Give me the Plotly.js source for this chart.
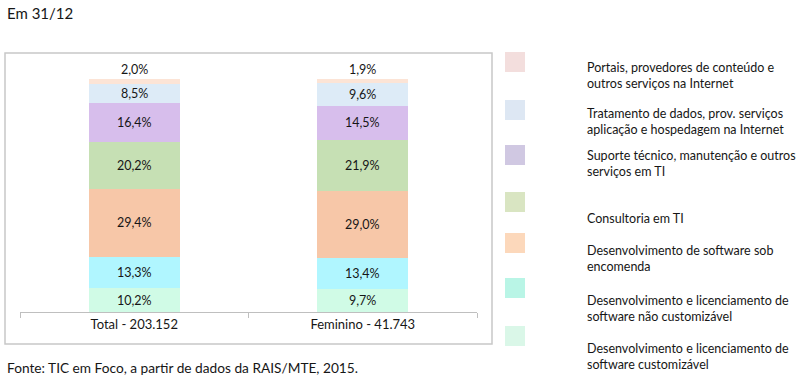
<!DOCTYPE html>
<html>
<head>
<meta charset="utf-8">
<script src="https://cdn.plot.ly/plotly-3.0.1.min.js"></script>
<style>
html,body{margin:0;padding:0;background:#fff;}
#chart{width:800px;height:376px;}
</style>
</head>
<body>
<div id="chart"></div>
<script>
// ---- data ----
const categories = ["Total - 203.152", "Feminino - 41.743"];
const seriesNames = [
  "Desenvolvimento e licenciamento de<br>software customizável",
  "Desenvolvimento e licenciamento de<br>software não customizável",
  "Desenvolvimento de software sob<br>encomenda",
  "Consultoria em TI",
  "Suporte técnico, manutenção e outros<br>serviços em TI",
  "Tratamento de dados, prov. serviços<br>aplicação e hospedagem na Internet",
  "Portais, provedores de conteúdo e<br>outros serviços na Internet"
];
const customizavel    = [10.2, 9.7];
const naoCustomizavel = [13.3, 13.4];
const sobEncomenda    = [29.4, 29.0];
const consultoria     = [20.2, 21.9];
const suporte         = [16.4, 14.5];
const tratamento      = [8.5, 9.6];
const portais         = [2.0, 1.9];
const seriesValues = [customizavel, naoCustomizavel, sobEncomenda, consultoria, suporte, tratamento, portais];

// ---- styles ----
const barColors    = ["#D0FBE6", "#B0F6FF", "#F7C7A8", "#C6E0B4", "#D7BEEC", "#DDEBF7", "#FCE4D6"];
const legendColors = ["#DAF7E8", "#B9F5E6", "#FCD8BB", "#D9E5C2", "#D0C8E2", "#DDE7F3", "#F3DEDD"];
const font = "Lato, 'Open Sans', sans-serif";
const textColor = "#161616";

const fmt = v => v.toFixed(1).replace(".", ",") + "%";

const traces = seriesValues.map((vals, i) => ({
  type: "bar",
  x: categories,
  y: vals,
  name: seriesNames[i].replace("<br>", " "),
  marker: {color: barColors[i], line: {width: 0}},
  width: 0.4,
  hoverinfo: "skip",
  showlegend: false
}));

// segment labels
const annotations = [];
categories.forEach((cat, c) => {
  let cum = 0;
  seriesValues.forEach((vals, i) => {
    const v = vals[c];
    const last = i === seriesValues.length - 1;
    annotations.push({
      x: cat, y: last ? cum + v : cum + v / 2,
      xref: "x", yref: "y",
      text: fmt(v), showarrow: false,
      yanchor: last ? "bottom" : "middle",
      font: {family: font, size: 12.5, color: textColor}
    });
    cum += v;
  });
});

// custom legend (top entry first)
const shapes = [];
const px = x => (x - 20) / 457;
const py = y => (312 - y) / 233;
const legendSquares = [62, 110, 155, 202, 243, 288, 336];
const legendTexts   = [76, 122, 163, 218, 258, 308, 356];
for (let k = 0; k < seriesNames.length; k++) {
  const i = seriesNames.length - 1 - k;
  shapes.push({
    type: "rect", xref: "paper", yref: "paper",
    x0: px(505), x1: px(525), y0: py(legendSquares[k] + 10), y1: py(legendSquares[k] - 10),
    fillcolor: legendColors[i], line: {width: 0}, layer: "above"
  });
  annotations.push({
    xref: "paper", yref: "paper", x: px(585), y: py(legendTexts[k]),
    xanchor: "left", yanchor: "middle", align: "left", showarrow: false,
    text: seriesNames[i],
    font: {family: font, size: 12.5, color: textColor}
  });
}

// outer chart frame
shapes.push({
  type: "rect", xref: "paper", yref: "paper",
  x0: px(5), x1: px(492), y0: py(344), y1: py(53),
  line: {color: "#C8C8C8", width: 1.5}, fillcolor: "rgba(0,0,0,0)", layer: "below"
});

annotations.push({
  xref: "paper", yref: "paper", x: px(5), y: py(13),
  xanchor: "left", yanchor: "middle", showarrow: false,
  text: "Em 31/12", font: {family: font, size: 15, color: textColor}
});
annotations.push({
  xref: "paper", yref: "paper", x: px(5), y: py(367),
  xanchor: "left", yanchor: "middle", showarrow: false,
  text: "Fonte: TIC em Foco, a partir de dados da RAIS/MTE, 2015.",
  font: {family: font, size: 13.7, color: textColor}
});

const layout = {
  width: 800, height: 376,
  margin: {l: 20, r: 323, t: 79, b: 64, pad: 0},
  paper_bgcolor: "#fff", plot_bgcolor: "#fff",
  barmode: "stack",
  showlegend: false,
  xaxis: {
    type: "category", range: [-0.5, 1.5],
    showline: true, linecolor: "#BFBFBF", linewidth: 1,
    ticks: "outside", tickson: "boundaries", ticklen: 5, tickcolor: "#BFBFBF",
    tickfont: {family: font, size: 13, color: textColor},
    showgrid: false, zeroline: false, fixedrange: true
  },
  yaxis: {
    range: [0, 100], visible: false, showgrid: false, zeroline: false, fixedrange: true
  },
  annotations: annotations,
  shapes: shapes
};

Plotly.newPlot("chart", traces, layout, {displayModeBar: false, staticPlot: true});
</script>
</body>
</html>
